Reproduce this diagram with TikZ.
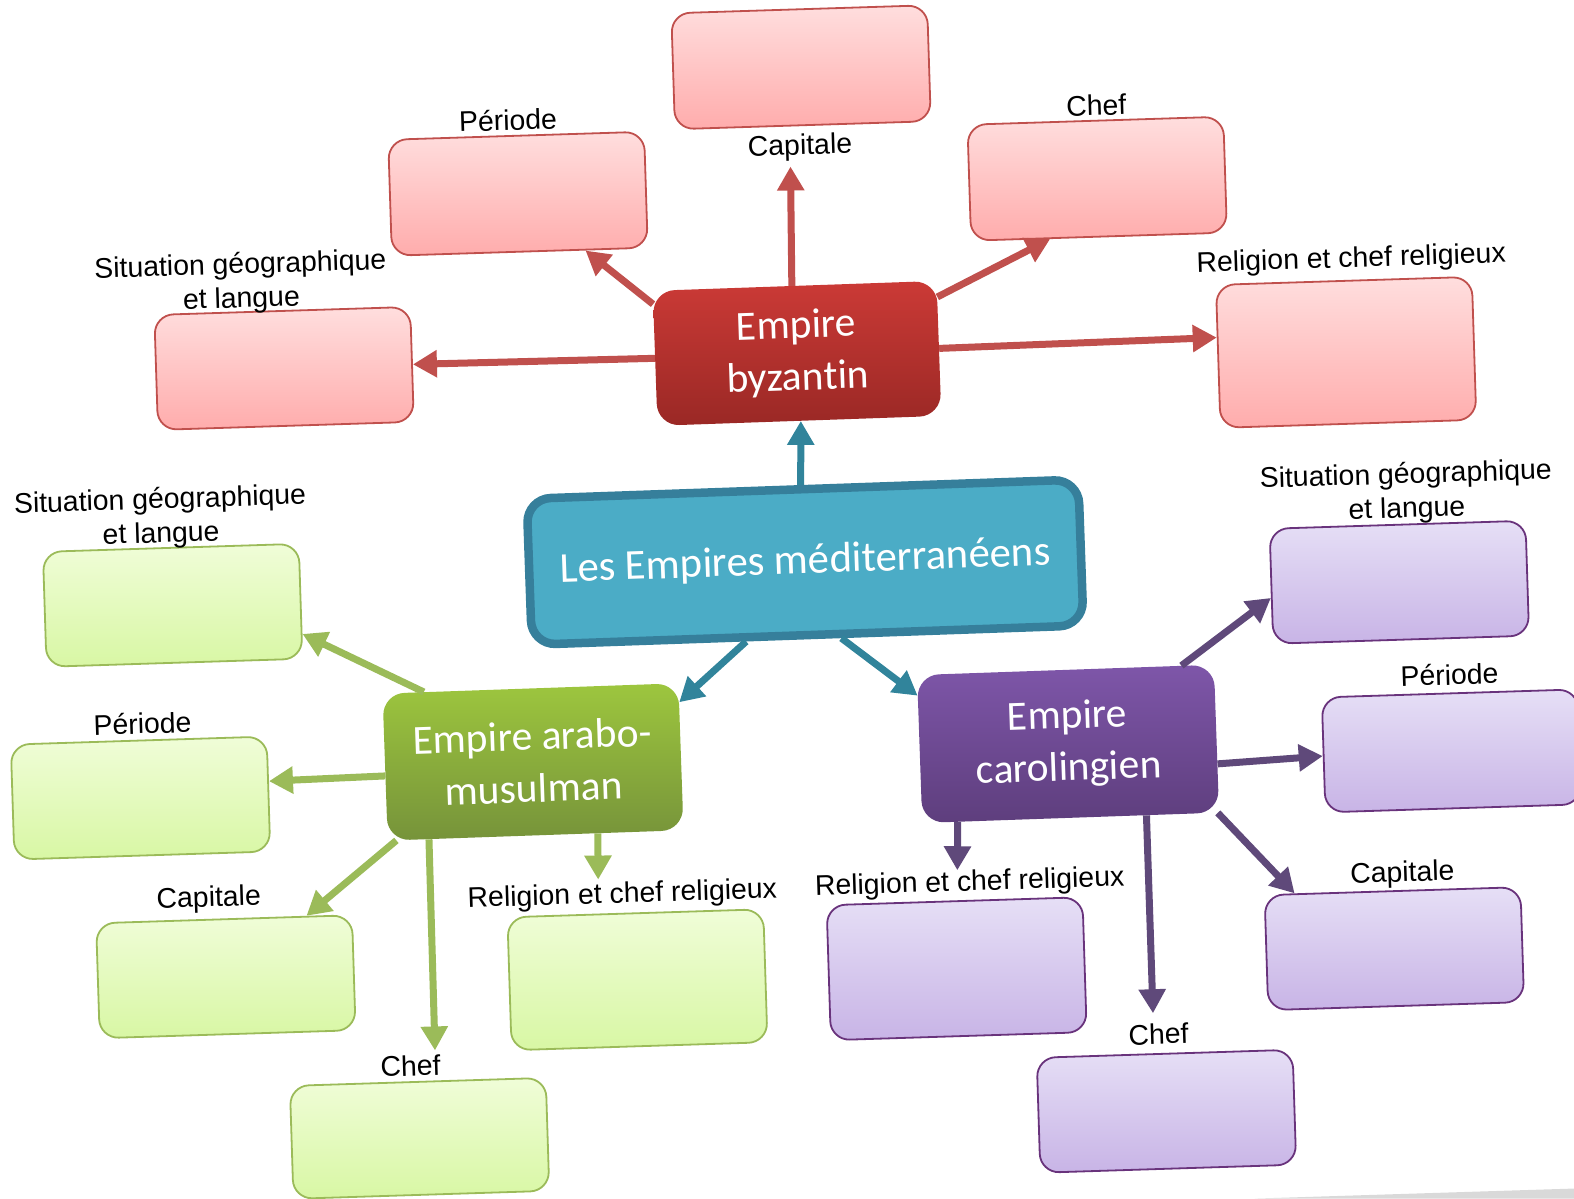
\documentclass[tikz,border=0pt]{standalone}
\usepackage{fontspec}
\setmainfont{Liberation Sans}
\newfontfamily\carl[Ligatures=NoCommon]{Carlito}
\usetikzlibrary{arrows.meta,calc}
\definecolor{rline}{HTML}{C0504D}
\definecolor{bline}{HTML}{31849B}
\definecolor{gline}{HTML}{9BBB59}
\definecolor{pline}{HTML}{5F497A}
\definecolor{cfill}{HTML}{4BACC6}
\definecolor{cedge}{HTML}{367F9B}
\definecolor{rtop}{HTML}{FFDEDE}\definecolor{rbot}{HTML}{FFACAC}
\definecolor{gtop}{HTML}{F0FDD8}\definecolor{gbot}{HTML}{D8F7A4}
\definecolor{ptop}{HTML}{E6DFF6}\definecolor{pbot}{HTML}{C8B4E6}
\definecolor{rhubt}{HTML}{CB3A36}\definecolor{rhubb}{HTML}{9A2825}
\definecolor{ghubt}{HTML}{9DC63E}\definecolor{ghubb}{HTML}{76933A}
\definecolor{phubt}{HTML}{7E56A9}\definecolor{phubb}{HTML}{5E3E7D}
\newcommand{\hubline}[1]{\raisebox{-3pt}{#1}}
\tikzset{
  x=1.00383pt,y=-1.00383pt,
  leaf/.style={rotate=1.8,rounded corners=19pt,minimum width=256pt,line width=1.8pt,inner sep=0pt},
  redleaf/.style={leaf,draw=rline,top color=rtop,bottom color=rbot},
  greenleaf/.style={leaf,draw=gline,top color=gtop,bottom color=gbot},
  purpleleaf/.style={leaf,draw=pline!70!violet,top color=ptop,bottom color=pbot},
  hub/.style={rotate=2,rounded corners=22pt,align=center,text=white,inner sep=0pt,
     font=\carl\fontsize{41.5}{52}\selectfont},
  lab/.style={rotate=1.8,align=center,font=\fontsize{28.4}{34}\selectfont,inner sep=0pt},
  link/.style={line width=7pt,-{Triangle[length=24pt,width=26pt]}},
  rlink/.style={link,draw=rline,fill=rline},
  blink/.style={link,draw=bline,fill=bline},
  glink/.style={link,draw=gline,fill=gline},
  plink/.style={link,draw=pline,fill=pline},
}
\begin{document}
\begin{tikzpicture}
\useasboundingbox (0,0) rectangle (1568,1194);
\fill[black!15] (1250,1194) -- (1568,1184) -- (1568,1194) -- cycle;

% centre and hubs
\node[rotate=2,rounded corners=24pt,draw=cedge,line width=8.5pt,fill=cfill,inner sep=0pt,
  minimum width=552pt,minimum height=146pt,text=white,font=\carl\fontsize{42.7}{50}\selectfont] (c) at (802,560) {\raisebox{-2pt}{Les Empires méditerranéens}};
\node[hub,minimum width=284pt,minimum height=135pt,top color=rhubt,bottom color=rhubb] (r) at (794,352) {\hubline{Empire}\\\hubline{byzantin}};
\node[hub,minimum width=296pt,minimum height=147pt,top color=ghubt,bottom color=ghubb] (g) at (531,759) {\hubline{Empire arabo-}\\\hubline{musulman}};
\node[hub,minimum width=297pt,minimum height=148pt,top color=phubt,bottom color=phubb] (p) at (1064,741) {\hubline{Empire}\\\hubline{carolingien}};

% red leaves
\node[redleaf,minimum height=116pt] (rper) at (516,193) {};
\node[redleaf,minimum height=116pt] (rcap) at (798,67) {};
\node[redleaf,minimum height=116pt] (rche) at (1093,178) {};
\node[redleaf,minimum height=143pt] (rrel) at (1341,351) {};
\node[redleaf,minimum height=115pt] (rsit) at (283,367) {};
% green leaves
\node[greenleaf,minimum height=115pt] (gsit) at (172,603) {};
\node[greenleaf,minimum height=115pt] (gper) at (140,795) {};
\node[greenleaf,minimum height=115pt] (gcap) at (225,973) {};
\node[greenleaf,minimum height=113pt] (gche) at (418,1134) {};
\node[greenleaf,minimum height=133pt] (grel) at (635,976) {};
% purple leaves
\node[purpleleaf,minimum height=115pt] (psit) at (1394,580) {};
\node[purpleleaf,minimum height=115pt] (pper) at (1446,748) {};
\node[purpleleaf,minimum height=115pt] (pcap) at (1389,945) {};
\node[purpleleaf,minimum height=115pt] (pche) at (1162,1107) {};
\node[purpleleaf,minimum height=135pt] (prel) at (953,965) {};

% labels
\node[lab] (lrper) at (506,119.5) {Période};
\node[lab] (lrcap) at (797,147) {Capitale};
\node[lab] (lrche) at (1092,105) {Chef};
\node[lab] (lrrel) at (1346,259) {Religion et chef religieux};
\node[lab] (lrsit) at (240,282) {Situation géographique\\et langue};
\node[lab] (lgsit) at (160,516) {Situation géographique\\et langue};
\node[lab] (lgper) at (142,720.5) {Période};
\node[lab] (lgcap) at (208,896) {Capitale};
\node[lab] (lgche) at (409,1061.5) {Chef};
\node[lab] (lgrel) at (620,892) {Religion et chef religieux};
\node[lab] (lpsit) at (1401,491) {Situation géographique\\et langue};
\node[lab] (lpper) at (1444,672) {Période};
\node[lab] (lpcap) at (1397,871) {Capitale};
\node[lab] (lpche) at (1154,1030) {Chef};
\node[lab] (lprel) at (966,880) {Religion et chef religieux};

% connectors from the centre
\draw[blink] ($(c.north west)!.497!(c.north east)$) -- ($(r.south west)!.505!(r.south east)$);
\draw[blink] ($(c.south west)!.39!(c.south east)$) -- ($(g.north east)!.13!(g.south east)$);
\draw[blink] ($(c.south west)!.56!(c.south east)$) -- ($(p.north west)!.14!(p.south west)$);

% red connectors
\draw[rlink] (r.west) -- (rsit.east);
\draw[rlink] ($(r.north west)!.1!(r.south west)$) -- ($(rper.south west)!.755!(rper.south east)$);
\draw[rlink,shorten >=40pt] ($(r.north west)!.49!(r.north east)$) -- ($(rcap.south west)!.45!(rcap.south east)$);
\draw[rlink] ($(r.north east)!.12!(r.south east)$) -- ($(rche.south west)!.31!(rche.south east)$);
\draw[rlink] (r.east) -- ($(rrel.north west)!.37!(rrel.south west)$);

% green connectors
\draw[glink] ($(g.north west)!.14!(g.north east)$) -- ($(gsit.north east)!.78!(gsit.south east)$);
\draw[glink] ($(g.north west)!.56!(g.south west)$) -- ($(gper.north east)!.39!(gper.south east)$);
\draw[glink] ($(g.south west)!.03!(g.south east)$) -- ($(gcap.north west)!.82!(gcap.north east)$);
\draw[glink,shorten >=30pt] ($(g.south west)!.14!(g.south east)$) -- ($(gche.north west)!.57!(gche.north east)$);
\draw[glink,shorten >=34pt] ($(g.south west)!.71!(g.south east)$) -- ($(grel.north west)!.357!(grel.north east)$);

% purple connectors
\draw[plink] ($(p.north west)!.89!(p.north east)$) -- ($(psit.north west)!.6!(psit.south west)$);
\draw[plink] ($(p.north east)!.67!(p.south east)$) -- ($(pper.north west)!.51!(pper.south west)$);
\draw[plink] ($(p.south west)!.995!(p.south east)$) -- ($(pcap.north west)!.12!(pcap.north east)$);
\draw[plink,shorten >=40pt] ($(p.south west)!.755!(p.south east)$) -- ($(pche.north west)!.46!(pche.north east)$);
\draw[plink,shorten >=30pt] ($(p.south west)!.12!(p.south east)$) -- ($(prel.north west)!.51!(prel.north east)$);
\end{tikzpicture}
\end{document}
